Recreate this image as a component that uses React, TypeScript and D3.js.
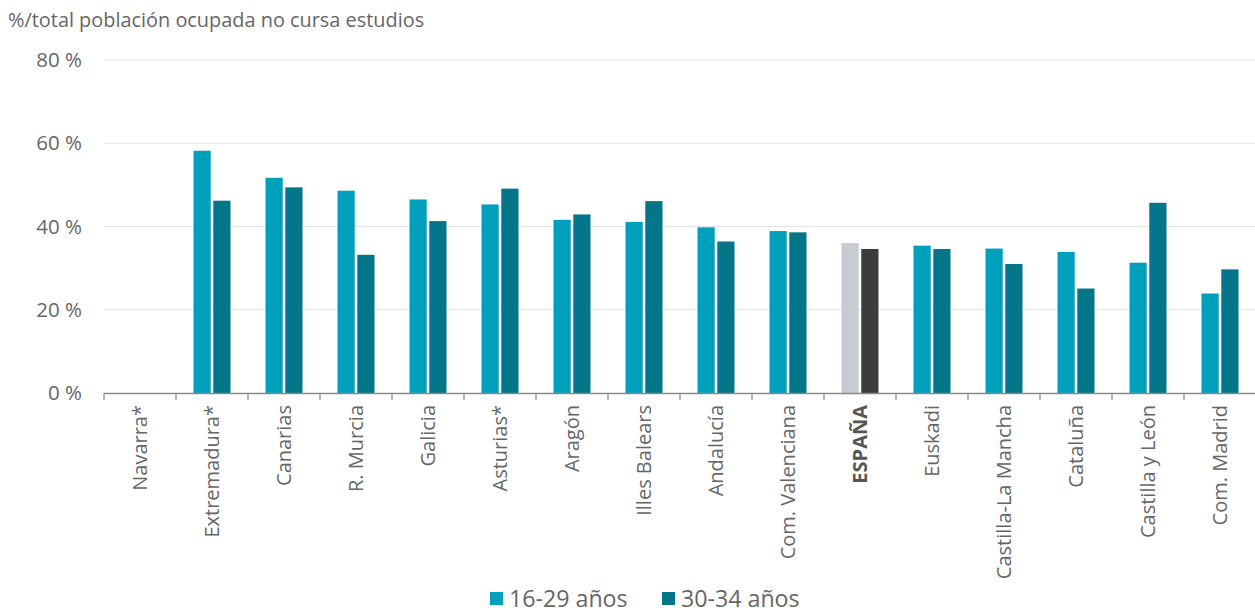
import React from "react";
import * as d3 from "d3";

const categories = ["Navarra*", "Extremadura*", "Canarias", "R. Murcia", "Galicia", "Asturias*", "Aragón", "Illes Balears", "Andalucía", "Com. Valenciana", "ESPAÑA", "Euskadi", "Castilla-La Mancha", "Cataluña", "Castilla y León", "Com. Madrid"];
const young: (number | null)[] = [null, 58.2, 51.7, 48.6, 46.5, 45.3, 41.6, 41.1, 39.8, 38.9, 36.0, 35.4, 34.7, 33.9, 31.3, 23.9];
const older: (number | null)[] = [null, 46.2, 49.4, 33.2, 41.3, 49.1, 42.9, 46.1, 36.4, 38.6, 34.6, 34.6, 31.0, 25.1, 45.7, 29.7];
const yTicks = [0, 20, 40, 60, 80];
const seriesNames = ["16-29 años", "30-34 años"];
const highlight = "ESPAÑA";

const W = 1255, H = 613;
const margin = { left: 104, right: 0, top: 60, bottom: 220 };
const FONT = "'Open Sans', Roboto, sans-serif";
const TEXT = "#666666";
const C1 = "#00a0bd", C2 = "#057689", G1 = "#c8ccd2", G2 = "#3b3c3e";

export default function App() {
  const x = d3.scaleBand<string>().domain(categories).range([margin.left, 1256]).padding(0);
  const y = d3.scaleLinear().domain([0, 80]).range([393, 60]);
  const inner = d3.scaleBand<string>().domain(["a", "b"]).range([0, 37]).paddingInner(0.13);
  const bw = x.bandwidth();
  return (
    <svg width={W} height={H} style={{ position: "absolute", left: 0, top: 0, background: "#fff" }} fontFamily={FONT}>
      <text x={8} y={27} fontSize={19.9} fill={TEXT}>%/total población ocupada no cursa estudios</text>
      {yTicks.map(t => (
        <g key={t}>
          {t > 0 && <line x1={margin.left} x2={W} y1={y(t)} y2={y(t)} stroke="#e3e3e8" strokeWidth={1} />}
          <text x={82} y={y(t)} dy="0.35em" textAnchor="end" fontSize={20.5} fill={TEXT}>{t} %</text>
        </g>
      ))}
      {categories.map((c, i) => {
        const x0 = (x(c) as number) + bw / 2 - 18.5;
        const isH = c === highlight;
        const vals = [young[i], older[i]];
        return (
          <g key={c}>
            {vals.map((v, j) => v == null ? null : (
              <rect key={j} x={x0 + (inner(j === 0 ? "a" : "b") as number)} width={inner.bandwidth()} y={y(v)} height={y(0) - y(v)}
                fill={isH ? (j === 0 ? G1 : G2) : (j === 0 ? C1 : C2)} />
            ))}
          </g>
        );
      })}
      <line x1={margin.left} x2={W} y1={393.5} y2={393.5} stroke="#8a8a8a" strokeWidth={1.5} />
      {categories.map((c, i) => (
        <line key={"t" + i} x1={(x(c) as number)} x2={(x(c) as number)} y1={393} y2={400} stroke="#8a8a8a" strokeWidth={1.2} />
      ))}
      {categories.map(c => {
        const cx = (x(c) as number) + bw / 2;
        return (
          <text key={"l" + c} transform={`translate(${cx},405) rotate(-90)`} dy="0.35em" textAnchor="end" fontSize={20}
            fill={c === highlight ? "#555" : TEXT} fontWeight={c === highlight ? "bold" : "normal"}>{c}</text>
        );
      })}
      {seriesNames.map((s, i) => {
        const lx = i === 0 ? 490 : 662;
        return (
          <g key={s}>
            <rect x={lx} y={592} width={13} height={13} fill={i === 0 ? C1 : C2} />
            <text x={lx + 19} y={599} dy="0.35em" fontSize={23.2} fill={TEXT}>{s}</text>
          </g>
        );
      })}
    </svg>
  );
}
